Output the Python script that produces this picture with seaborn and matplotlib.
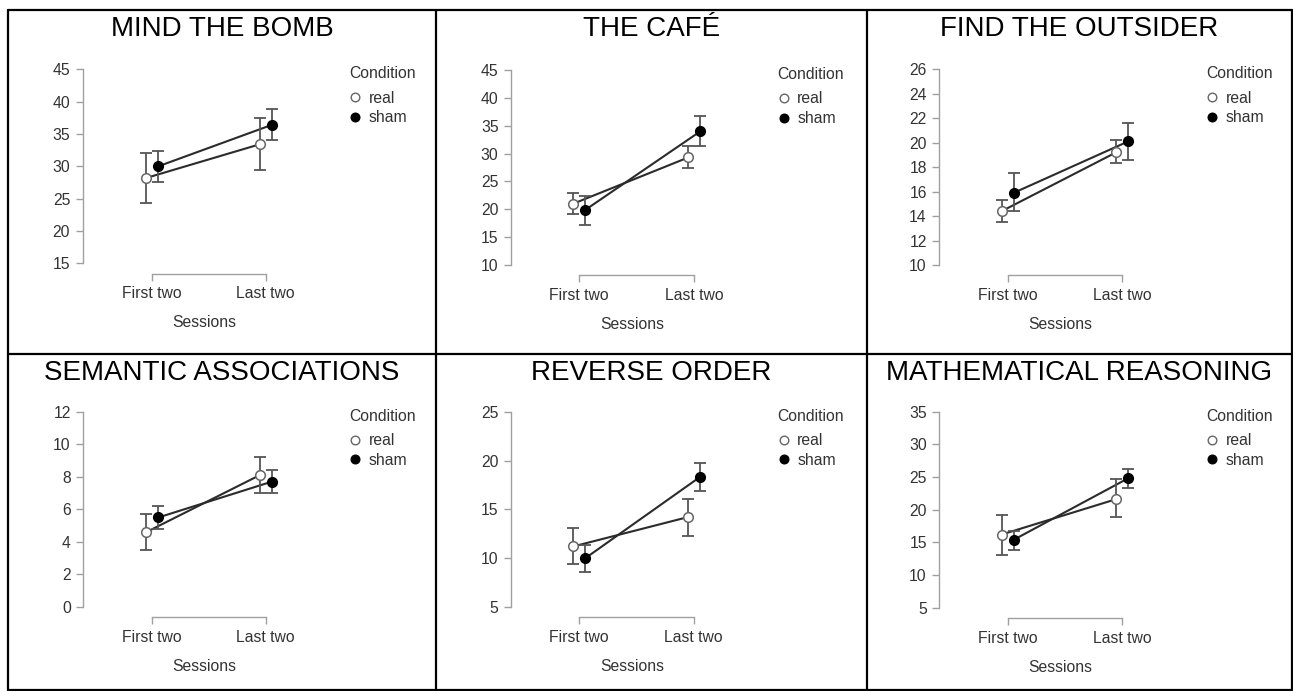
import matplotlib
matplotlib.use("Agg")
import matplotlib.pyplot as plt
from matplotlib.lines import Line2D
import seaborn as sns
import pandas as pd

# ---- data -------------------------------------------------------------
tasks = ["MIND THE BOMB", "THE CAFÉ", "FIND THE OUTSIDER",
         "SEMANTIC ASSOCIATIONS", "REVERSE ORDER", "MATHEMATICAL REASONING"]
sessions = ["First two", "Last two"]
conditions = ["real", "sham"]

real_mean = [[28.2, 33.4], [21.0, 29.3], [14.4, 19.2], [4.6, 8.1], [11.2, 14.2], [16.2, 21.6]]
real_lo = [[24.4, 29.5], [19.1, 27.4], [13.5, 18.3], [3.5, 7.0], [9.4, 12.3], [13.1, 18.9]]
real_hi = [[32.1, 37.4], [23.0, 31.3], [15.3, 20.2], [5.7, 9.2], [13.1, 16.1], [19.2, 24.7]]

sham_mean = [[30.0, 36.4], [19.9, 34.0], [15.9, 20.1], [5.5, 7.7], [10.0, 18.3], [15.4, 24.8]]
sham_lo = [[27.6, 34.1], [17.2, 31.4], [14.4, 18.6], [4.8, 7.0], [8.6, 16.9], [13.9, 23.3]]
sham_hi = [[32.3, 38.9], [22.4, 36.7], [17.5, 21.6], [6.2, 8.4], [11.4, 19.7], [16.8, 26.3]]

y_ticks = [list(range(15, 46, 5)), list(range(10, 46, 5)), list(range(10, 27, 2)),
           list(range(0, 13, 2)), list(range(5, 26, 5)), list(range(5, 36, 5))]

rows = []
for t, task in enumerate(tasks):
    for c, (m, lo, hi) in zip(conditions, [(real_mean, real_lo, real_hi),
                                          (sham_mean, sham_lo, sham_hi)]):
        for s, sess in enumerate(sessions):
            rows.append(dict(task=task, condition=c, session=sess, s_idx=s,
                             mean=m[t][s], lo=lo[t][s], hi=hi[t][s]))
df = pd.DataFrame(rows)
dodge = {"real": -0.053, "sham": 0.053}
df["x"] = df["s_idx"] + df["condition"].map(dodge)

# ---- style -------------------------------------------------------------
sns.set_style("white")
plt.rcParams["font.family"] = ["Liberation Sans", "DejaVu Sans"]

W, H = 1293, 691
fig = plt.figure(figsize=(W / 100, H / 100), dpi=100)


def fx(px):
    return px / W


def fy(py):
    return 1 - py / H


# table cells: (left, right), (top, bottom) in pixels
col_edges = [(8, 436), (436, 867), (867, 1292)]
row_edges = [(10, 354), (354, 690)]

# per-panel geometry in pixels: spine x, top tick y, bottom tick y, cat0 x, cat1 x
geom = [
    (82.7, 69.3, 263.3, 152.3, 265.7),
    (511.0, 70.0, 265.0, 579.3, 694.3),
    (939.3, 69.3, 265.0, 1007.7, 1122.0),
    (83.3, 411.7, 607.0, 152.3, 265.7),
    (511.0, 411.7, 607.0, 579.3, 693.7),
    (939.3, 411.7, 607.7, 1007.7, 1122.0),
]
legend_x = [349, 777.5, 1206, 349, 777.5, 1206]

spine_col = "#a0a0a0"
text_col = "#333333"
line_col = "#2b2b2b"
err_col = "#555555"
fs = 11.3

for i, task in enumerate(tasks):
    r, c = divmod(i, 3)
    sx, ytop, ybot, c0, c1 = geom[i]
    unit = c1 - c0
    right = c1 + 60
    ax = fig.add_axes([fx(sx), fy(ybot), fx(right - sx), (ybot - ytop) / H])
    ticks = y_ticks[i]
    ax.set_ylim(ticks[0], ticks[-1])
    ax.set_xlim(-(c0 - sx) / unit, 1 + (right - c1) / unit)

    d = df[df["task"] == task]
    sns.lineplot(data=d, x="x", y="mean", hue="condition",
                 palette={"real": line_col, "sham": line_col},
                 legend=False, ax=ax, lw=1.5, errorbar=None, sort=True)
    for cond in conditions:
        sub = d[d["condition"] == cond]
        ax.errorbar(sub["x"], sub["mean"],
                    yerr=[sub["mean"] - sub["lo"], sub["hi"] - sub["mean"]],
                    fmt="none", ecolor=err_col, elinewidth=1.3, capsize=4.5,
                    capthick=1.3, zorder=3, clip_on=False)
    for cond, fill, edge in [("real", "white", "#666666"), ("sham", "black", "black")]:
        sub = d[d["condition"] == cond]
        sns.scatterplot(data=sub, x="x", y="mean", color=fill, edgecolor=edge,
                        s=48, linewidth=1.1, zorder=4, ax=ax, clip_on=False)

    ax.set_yticks(ticks)
    ax.set_yticklabels([str(v) for v in ticks])
    ax.set_xticks([0, 1])
    ax.set_xticklabels(sessions)
    ax.set_xlabel("Sessions", fontsize=fs, color=text_col, labelpad=10)
    ax.set_ylabel("")
    for side in ["top", "right"]:
        ax.spines[side].set_visible(False)
    ax.spines["left"].set_bounds(ticks[0], ticks[-1])
    ax.spines["bottom"].set_bounds(0, 1)
    ax.spines["bottom"].set_position(("outward", 7.5))
    for side in ["left", "bottom"]:
        ax.spines[side].set_color(spine_col)
        ax.spines[side].set_linewidth(1.0)
    ax.tick_params(axis="both", direction="out", length=5, width=1.0,
                   left=True, bottom=True,
                   color=spine_col, labelsize=fs, labelcolor=text_col)
    ax.tick_params(axis="y", pad=4)
    ax.tick_params(axis="x", pad=4)
    ax.patch.set_alpha(0)

    handles = [Line2D([], [], marker="o", ls="none", markerfacecolor="white",
                      markeredgecolor="#666666", markersize=6.2, markeredgewidth=1.0),
               Line2D([], [], marker="o", ls="none", markerfacecolor="black",
                      markeredgecolor="black", markersize=6.2)]
    leg = ax.legend(handles, conditions, title="Condition", alignment="left",
                    frameon=False, loc="upper left",
                    bbox_to_anchor=(fx(legend_x[i]), fy(ytop - 3)),
                    bbox_transform=fig.transFigure, borderaxespad=0, borderpad=0,
                    handlelength=0.8, handletextpad=0.45, labelspacing=0.3,
                    fontsize=fs, title_fontsize=fs, labelcolor=text_col)
    leg.get_title().set_color(text_col)
    leg._legend_box.sep = 6.8

    # panel title
    (cl, cr), (rt, rb) = col_edges[c], row_edges[r]
    fig.text(fx((cl + cr) / 2), fy(rt + 26), task, ha="center", va="baseline",
             fontsize=20, color="black")

# table borders
lw = 1.6
for x in [7.5, 436, 867, 1292]:
    fig.add_artist(Line2D([fx(x), fx(x)], [fy(10), fy(690)], color="black", lw=lw,
                          transform=fig.transFigure))
for y in [10, 354, 690]:
    fig.add_artist(Line2D([fx(7.5), fx(1292)], [fy(y), fy(y)], color="black", lw=lw,
                          transform=fig.transFigure))

fig.savefig("out.png", dpi=100)
